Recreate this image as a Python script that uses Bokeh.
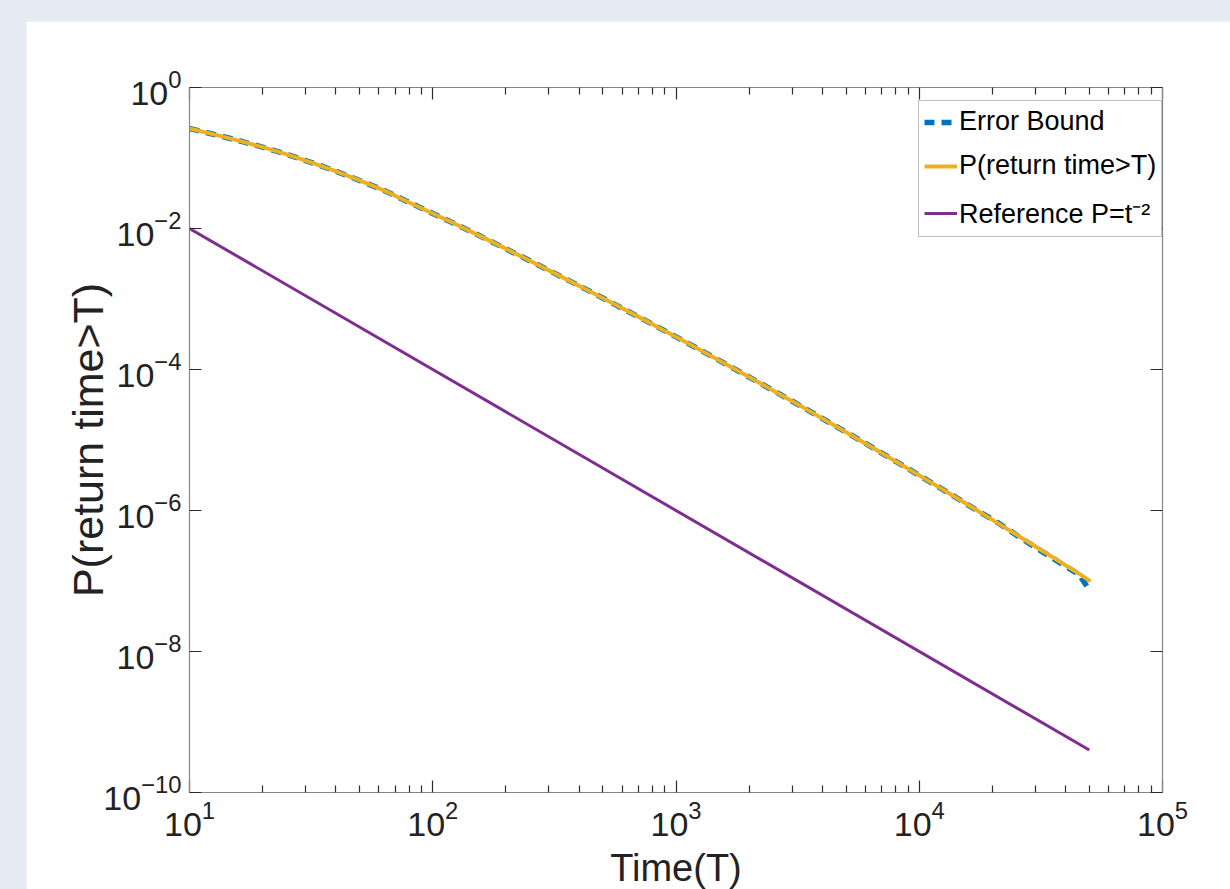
from bokeh.plotting import figure
from bokeh.models import (Range1d, FixedTicker, LogAxis, Legend, LegendItem,
                          CustomJSTickFormatter, GlobalInlineStyleSheet)
from bokeh.embed import file_html
from bokeh.resources import INLINE

# ---------------- data ----------------
time_t = [10, 13.2, 16.5, 20.5, 25.5, 32, 39.8, 49.5, 64, 77.3, 100, 122, 153, 190,
          236, 296, 368, 458, 575, 715, 889, 1115, 1387, 1722, 2163, 2690, 3343,
          4198, 5215, 6484, 8143, 10400, 13200, 17000, 21200, 26800, 32400, 38800,
          45200, 50600]
p_return = [0.262, 0.208, 0.171, 0.139, 0.111, 0.0855, 0.0652, 0.0488, 0.0339, 0.0248,
            0.0163, 0.0119, 0.00813, 0.00562, 0.00387, 0.00261, 0.00178, 0.00121,
            8.00e-4, 5.40e-4, 3.61e-4, 2.37e-4, 1.57e-4, 1.04e-4, 6.71e-5, 4.40e-5,
            2.88e-5, 1.83e-5, 1.19e-5, 7.64e-6, 4.80e-6, 2.90e-6, 1.77e-6, 1.04e-6,
            6.52e-7, 3.94e-7, 2.62e-7, 1.78e-7, 1.28e-7, 9.86e-8]
bound_t = [10, 13.2, 16.5, 20.5, 25.5, 32, 39.8, 49.5, 64, 77.3, 100, 122, 153, 190,
           236, 296, 368, 458, 575, 715, 889, 1115, 1387, 1722, 2163, 2690, 3343,
           4198, 5215, 6484, 8143, 10400, 13200, 17000, 21200, 26800, 32400, 38800,
           45200, 50600]
bound_p = [0.262, 0.208, 0.171, 0.139, 0.111, 0.0855, 0.0652, 0.0488, 0.0339, 0.0248,
           0.0163, 0.0119, 0.00813, 0.00562, 0.00387, 0.00261, 0.00178, 0.00121,
           8.00e-4, 5.40e-4, 3.61e-4, 2.37e-4, 1.57e-4, 1.04e-4, 6.71e-5, 4.40e-5,
           2.88e-5, 1.83e-5, 1.19e-5, 7.64e-6, 4.80e-6, 2.90e-6, 1.77e-6, 1.04e-6,
           6.60e-7, 3.85e-7, 2.55e-7, 1.72e-7, 1.25e-7, 7.10e-8]
ref_t = [10, 50000]
ref_p = [1e-2, 4e-10]

x_major = [1e1, 1e2, 1e3, 1e4, 1e5]
x_minor = [m * d for d in [1e1, 1e2, 1e3, 1e4] for m in range(2, 10)]
y_major = [1e-10, 1e-8, 1e-6, 1e-4, 1e-2, 1e0]

legend_labels = ["Error Bound", "P(return time>T)", "Reference P=t\u207b\u00b2"]

# ---------------- styling ----------------
FONT = "Liberation Sans"
AXIS_LINE = "#868686"
TICK_COL = "#2b2b2b"
TEXT_COL = "#222222"

p = figure(x_axis_type="log", y_axis_type="log",
           x_range=Range1d(10, 1e5), y_range=Range1d(1e-10, 1),
           frame_width=973, frame_height=705,
           min_border_left=163, min_border_right=68,
           min_border_top=66, min_border_bottom=97,
           output_backend="svg", toolbar_location=None,
           background_fill_color="white", border_fill_color="white")
p.stylesheets = [GlobalInlineStyleSheet(
    css="html, body {margin:0; padding:0; background:#e6ebf3; overflow:hidden;}"
        " body {padding: 21px 0 0 26px;}")]
p.outline_line_color = None
p.xgrid.visible = False
p.ygrid.visible = False

xt = FixedTicker(ticks=x_major, minor_ticks=x_minor)
yt = FixedTicker(ticks=y_major, minor_ticks=[])


def style_axis(ax, labels=True):
    ax.axis_line_color = AXIS_LINE
    ax.axis_line_width = 1.2
    ax.major_tick_line_color = TICK_COL
    ax.minor_tick_line_color = TICK_COL
    ax.major_tick_in = 12
    ax.major_tick_out = 0
    ax.minor_tick_in = 7
    ax.minor_tick_out = 0
    ax.major_tick_line_width = 1.2
    ax.minor_tick_line_width = 1.2
    ax.major_label_text_font = FONT
    ax.major_label_text_font_size = "34px"
    ax.major_label_text_color = TEXT_COL
    ax.major_label_standoff = 8
    if not labels:
        ax.formatter = CustomJSTickFormatter(code="return ''")
        ax.major_label_text_font_size = "1px"


p.xaxis.ticker = xt
p.yaxis.ticker = yt
style_axis(p.xaxis[0])
style_axis(p.yaxis[0])
p.xaxis.axis_label = "Time(T)"
p.xaxis.axis_label_text_font = FONT
p.xaxis.axis_label_text_font_size = "38px"
p.xaxis.axis_label_text_font_style = "normal"
p.xaxis.axis_label_text_color = TEXT_COL
p.xaxis.axis_label_standoff = 8
p.yaxis.axis_label = "P(return time>T)"
p.yaxis.axis_label_text_font = FONT
p.yaxis.axis_label_text_font_size = "43px"
p.yaxis.axis_label_text_font_style = "normal"
p.yaxis.axis_label_text_color = TEXT_COL
p.yaxis.axis_label_standoff = -12

top_ax = LogAxis(ticker=FixedTicker(ticks=x_major, minor_ticks=x_minor))
right_ax = LogAxis(ticker=FixedTicker(ticks=y_major, minor_ticks=[]))
style_axis(top_ax, labels=False)
style_axis(right_ax, labels=False)
p.add_layout(top_ax, "above")
p.add_layout(right_ax, "right")

# ---------------- lines ----------------
r_bound = p.line(bound_t, bound_p, line_color="#0072BD", line_width=5.5,
                 line_dash="10 7")
r_p = p.line(time_t, p_return, line_color="#EDB120", line_width=4)
r_ref = p.line(ref_t, ref_p, line_color="#7E2F8E", line_width=3)

legend = Legend(items=[LegendItem(label=legend_labels[0], renderers=[r_bound]),
                       LegendItem(label=legend_labels[1], renderers=[r_p]),
                       LegendItem(label=legend_labels[2], renderers=[r_ref])],
                location=(729, 555),
                label_text_font=FONT, label_text_font_size="27px",
                label_text_color="black",
                glyph_width=33, glyph_height=30, label_standoff=2,
                spacing=13, padding=5, margin=0,
                border_line_color="#7f7f7f", border_line_width=1.2,
                background_fill_color="white", background_fill_alpha=1.0)
p.add_layout(legend)

open("out.html", "w").write(file_html(p, INLINE))
